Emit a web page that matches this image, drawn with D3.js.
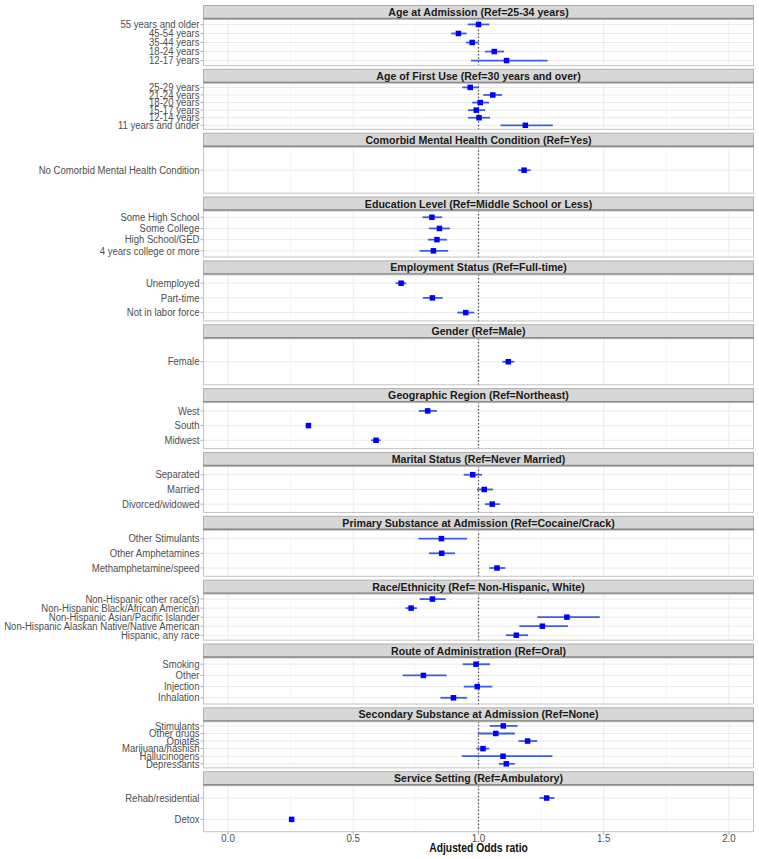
<!DOCTYPE html>
<html><head><meta charset="utf-8">
<script src="https://cdn.jsdelivr.net/npm/d3@7"></script>
<style>body{margin:0;background:#fff}svg{display:block}</style>
</head><body><svg id="c" width="759" height="859"></svg>
<script>
const facetTitles = [
  "Age at Admission (Ref=25-34 years)",
  "Age of First Use (Ref=30 years and over)",
  "Comorbid Mental Health Condition (Ref=Yes)",
  "Education Level (Ref=Middle School or Less)",
  "Employment Status (Ref=Full-time)",
  "Gender (Ref=Male)",
  "Geographic Region (Ref=Northeast)",
  "Marital Status (Ref=Never Married)",
  "Primary Substance at Admission (Ref=Cocaine/Crack)",
  "Race/Ethnicity (Ref= Non-Hispanic, White)",
  "Route of Administration (Ref=Oral)",
  "Secondary Substance at Admission (Ref=None)",
  "Service Setting (Ref=Ambulatory)"
];
// categories listed top to bottom within each facet
const categories = [
  ["55 years and older","45-54 years","35-44 years","18-24 years","12-17 years"],
  ["25-29 years","21-24 years","18-20 years","15-17 years","12-14 years","11 years and under"],
  ["No Comorbid Mental Health Condition"],
  ["Some High School","Some College","High School/GED","4 years college or more"],
  ["Unemployed","Part-time","Not in labor force"],
  ["Female"],
  ["West","South","Midwest"],
  ["Separated","Married","Divorced/widowed"],
  ["Other Stimulants","Other Amphetamines","Methamphetamine/speed"],
  ["Non-Hispanic other race(s)","Non-Hispanic Black/African American","Non-Hispanic Asian/Pacific Islander","Non-Hispanic Alaskan Native/Native American","Hispanic, any race"],
  ["Smoking","Other","Injection","Inhalation"],
  ["Stimulants","Other drugs","Opiates","Marijuana/hashish","Hallucinogens","Depressants"],
  ["Rehab/residential","Detox"]
];
const estimates = [
  [1.00,0.92,0.975,1.063,1.112],
  [0.967,1.057,1.007,0.991,1.002,1.187],
  [1.182],
  [0.814,0.844,0.834,0.820],
  [0.691,0.816,0.949],
  [1.119],
  [0.797,0.321,0.591],
  [0.977,1.023,1.055],
  [0.852,0.853,1.074],
  [0.816,0.731,1.353,1.255,1.151],
  [0.990,0.780,0.995,0.900],
  [1.099,1.069,1.196,1.018,1.098,1.111],
  [1.272,0.254]
];
const lower = [
  [0.957,0.891,0.950,1.026,0.970],
  [0.935,1.019,0.975,0.958,0.958,1.088],
  [1.158],
  [0.777,0.802,0.798,0.765],
  [0.669,0.778,0.915],
  [1.095],
  [0.762,0.312,0.571],
  [0.941,0.994,1.026],
  [0.760,0.802,1.043],
  [0.765,0.709,1.235,1.163,1.109],
  [0.937,0.697,0.941,0.848],
  [1.045,0.997,1.160,0.991,0.933,1.081],
  [1.243,0.248]
];
const upper = [
  [1.043,0.953,1.001,1.102,1.276],
  [1.002,1.094,1.042,1.027,1.046,1.297],
  [1.208],
  [0.855,0.886,0.874,0.879],
  [0.712,0.857,0.983],
  [1.143],
  [0.834,0.330,0.609],
  [1.014,1.058,1.086],
  [0.954,0.906,1.107],
  [0.869,0.754,1.484,1.357,1.198],
  [1.046,0.873,1.055,0.954],
  [1.156,1.145,1.234,1.043,1.295,1.145],
  [1.303,0.260]
];
const xTicks = [0, 0.5, 1.0, 1.5, 2.0];
const xMinor = [0.25, 0.75, 1.25, 1.75];
const refValue = 1;
const xTitle = "Adjusted Odds ratio";

const svg = d3.select("#c");
const left = 203, right = 754, top0 = 5;
const stripH = 14, panelH = 47, gapH = 2.85;
const pitch = stripH + panelH + gapH;
const sxLabel = 0.885, sxStrip = 0.9;

const x = d3.scaleLinear().domain([-0.1, 2.1]).range([left, right]);

function sText(g, tx, ty, txt, sx, anchor) {
  const gg = g.append("g").attr("transform", `translate(${tx},${ty}) scale(${sx},1)`);
  return gg.append("text").attr("text-anchor", anchor).text(txt);
}

facetTitles.forEach((title, fi) => {
  const sy = top0 + fi * pitch;
  const py = sy + stripH;
  const g = svg.append("g");
  const cats = categories[fi];
  const n = cats.length;
  const order = cats.slice().reverse(); // ggplot discrete axis: first level at bottom
  // ggplot discrete expansion: positions 1..n in [0.4, n+0.6]
  const y = d3.scaleLinear().domain([0.4, n + 0.6]).range([py + panelH, py]);
  const yPos = c => y(order.indexOf(c) + 1);
  g.append("rect").attr("x", left).attr("y", py).attr("width", right - left).attr("height", panelH).attr("fill", "#fff");
  g.selectAll(".mn").data(xMinor).join("line")
    .attr("x1", d => x(d)).attr("x2", d => x(d)).attr("y1", py).attr("y2", py + panelH)
    .attr("stroke", "#f4f4f4").attr("stroke-width", 0.6);
  g.selectAll(".mj").data(xTicks).join("line")
    .attr("x1", d => x(d)).attr("x2", d => x(d)).attr("y1", py).attr("y2", py + panelH)
    .attr("stroke", "#ebebeb").attr("stroke-width", 1);
  g.selectAll(".hg").data(cats).join("line")
    .attr("x1", left).attr("x2", right).attr("y1", d => yPos(d)).attr("y2", d => yPos(d))
    .attr("stroke", "#ebebeb").attr("stroke-width", 1);
  g.append("line").attr("x1", x(refValue)).attr("x2", x(refValue)).attr("y1", py).attr("y2", py + panelH)
    .attr("stroke", "#555").attr("stroke-width", 1.3).attr("stroke-dasharray", "1.5,2");
  g.selectAll(".eb").data(cats).join("line")
    .attr("x1", (d, i) => x(lower[fi][i])).attr("x2", (d, i) => x(upper[fi][i]))
    .attr("y1", d => yPos(d)).attr("y2", d => yPos(d))
    .attr("stroke", "#3d5ce6").attr("stroke-width", 1.8);
  const ps = 5.5;
  g.selectAll(".pt").data(cats).join("rect")
    .attr("x", (d, i) => x(estimates[fi][i]) - ps / 2).attr("y", d => yPos(d) - ps / 2)
    .attr("width", ps).attr("height", ps).attr("fill", "#0000ff");
  g.append("rect").attr("x", left + 0.5).attr("y", py + 0.5).attr("width", right - left - 1).attr("height", panelH - 1)
    .attr("fill", "none").attr("stroke", "#c4c4c4").attr("stroke-width", 1);
  cats.forEach(c => {
    const yy = yPos(c);
    g.append("line").attr("x1", left - 2.5).attr("x2", left).attr("y1", yy).attr("y2", yy)
      .attr("stroke", "#999").attr("stroke-width", 0.8);
    sText(g, left - 3.5, yy + 3.7, c, sxLabel, "end")
      .attr("font-family", "Liberation Sans, Arial, sans-serif").attr("font-size", 10.8).attr("fill", "#4d4d4d");
  });
  g.append("rect").attr("x", left + 0.5).attr("y", sy + 0.5).attr("width", right - left - 1).attr("height", stripH - 1)
    .attr("fill", "#d7d7d7").attr("stroke", "#b0b0b0");
  g.append("line").attr("x1", left).attr("x2", right).attr("y1", sy + stripH - 0.5).attr("y2", sy + stripH - 0.5)
    .attr("stroke", "#8a8a8a").attr("stroke-width", 1.4);
  sText(g, (left + right) / 2, sy + 11, title, sxStrip, "middle")
    .attr("font-family", "Liberation Sans, Arial, sans-serif").attr("font-size", 11.8)
    .attr("font-weight", "bold").attr("fill", "#1a1a1a");
});

const bottom = top0 + (facetTitles.length - 1) * pitch + stripH + panelH;
const xa = svg.append("g");
xTicks.forEach(t => {
  xa.append("line").attr("x1", x(t)).attr("x2", x(t)).attr("y1", bottom).attr("y2", bottom + 2.5)
    .attr("stroke", "#999").attr("stroke-width", 0.8);
  sText(xa, x(t), bottom + 10, d3.format(".1f")(t), 0.9, "middle")
    .attr("font-family", "Liberation Sans, Arial, sans-serif").attr("font-size", 10.8).attr("fill", "#4d4d4d");
});
sText(xa, (left + right) / 2, bottom + 20, xTitle, 0.86, "middle")
  .attr("font-family", "Liberation Sans, Arial, sans-serif").attr("font-size", 12)
  .attr("font-weight", "bold").attr("fill", "#111");
</script></body></html>
